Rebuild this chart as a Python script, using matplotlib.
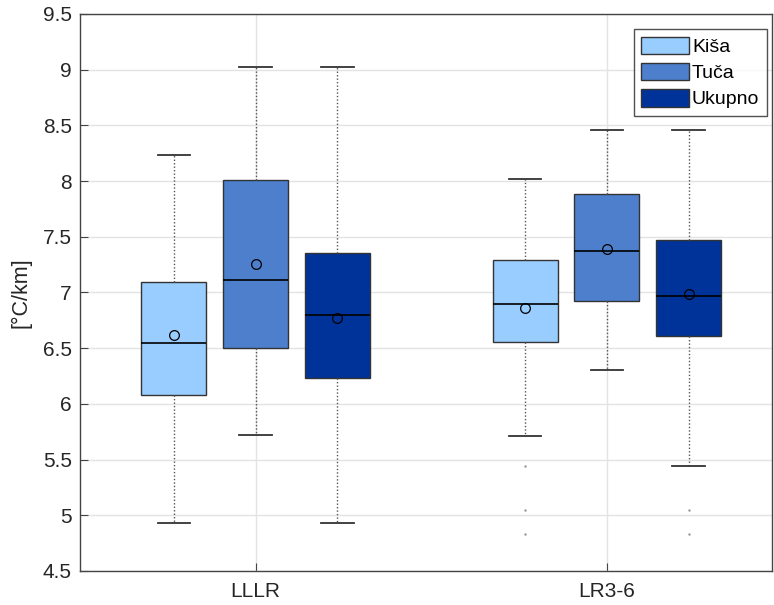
import matplotlib
matplotlib.use("Agg")
import matplotlib.pyplot as plt
from matplotlib.patches import Patch

plt.rcParams['font.family'] = ['Liberation Sans', 'DejaVu Sans']

groups = ["LLLR", "LR3-6"]
series = ["Kiša", "Tuča", "Ukupno"]
colors = ["#99CCFF", "#4D7FCC", "#00339A"]

# per series: values for [LLLR, LR3-6]
whislo = {"Kiša": [4.93, 5.71], "Tuča": [5.72, 6.30], "Ukupno": [4.93, 5.44]}
q1 = {"Kiša": [6.08, 6.56], "Tuča": [6.50, 6.92], "Ukupno": [6.23, 6.61]}
med = {"Kiša": [6.55, 6.90], "Tuča": [7.11, 7.37], "Ukupno": [6.80, 6.97]}
q3 = {"Kiša": [7.09, 7.29], "Tuča": [8.01, 7.88], "Ukupno": [7.35, 7.47]}
whishi = {"Kiša": [8.23, 8.02], "Tuča": [9.02, 8.46], "Ukupno": [9.02, 8.46]}
mean = {"Kiša": [6.62, 6.86], "Tuča": [7.26, 7.39], "Ukupno": [6.77, 6.99]}
fliers = {"Kiša": [[], [5.44, 5.05, 4.83]], "Tuča": [[], []], "Ukupno": [[], [5.05, 4.83]]}

fig = plt.figure(figsize=(7.74, 6.05), dpi=100)
ax = fig.add_axes([0.1034, 0.0562, 0.8940, 0.9207])

offsets = [-0.233, 0.0, 0.233]
width = 0.185
for si, s in enumerate(series):
    stats = []
    for gi in range(len(groups)):
        stats.append(dict(whislo=whislo[s][gi], q1=q1[s][gi], med=med[s][gi],
                          q3=q3[s][gi], whishi=whishi[s][gi], mean=mean[s][gi],
                          fliers=fliers[s][gi]))
    pos = [gi + 1 + offsets[si] for gi in range(len(groups))]
    ax.bxp(stats, positions=pos, widths=width, patch_artist=True, showmeans=True,
           manage_ticks=False,
           boxprops=dict(facecolor=colors[si], edgecolor="#333333", linewidth=1.0),
           medianprops=dict(color="black", linewidth=1.2),
           whiskerprops=dict(color="#555555", linestyle=(0, (1, 1.5)), linewidth=1.0),
           capprops=dict(color="#333333", linewidth=1.3),
           capwidths=width / 2,
           meanprops=dict(marker="o", markerfacecolor="none", markeredgecolor="black",
                          markersize=7, markeredgewidth=0.9),
           flierprops=dict(marker=".", markersize=1.5, markerfacecolor="#999999",
                           markeredgecolor="#999999"),
           zorder=3)

ax.set_xlim(0.5, 2.47)
ax.set_ylim(4.5, 9.5)
ax.set_yticks([4.5, 5, 5.5, 6, 6.5, 7, 7.5, 8, 8.5, 9, 9.5])
ax.set_yticklabels(["4.5", "5", "5.5", "6", "6.5", "7", "7.5", "8", "8.5", "9", "9.5"])
ax.set_xticks([1, 2])
ax.set_xticklabels(groups)
ax.grid(True, color="#E3E3E3", linewidth=1.0, zorder=0)
ax.set_axisbelow(True)
ax.tick_params(direction="in", length=6, color="#444444", labelsize=15,
               labelcolor="#262626", top=False, right=False)
ax.tick_params(axis="y", pad=6)
ax.tick_params(axis="x", pad=8)
for sp in ax.spines.values():
    sp.set_color("#444444")
    sp.set_linewidth(1.0)
ax.set_ylabel("[°C/km]", fontsize=15.5, color="#262626", labelpad=8)

handles = [Patch(facecolor=c, edgecolor="#333333", label=s) for c, s in zip(colors, series)]
leg = ax.legend(handles=handles, loc="upper right", fontsize=14, frameon=True,
                fancybox=False, edgecolor="#262626", handlelength=2.45, handleheight=1.0,
                handletextpad=0.15, labelspacing=0.35, borderpad=0.4,
                bbox_to_anchor=(0.993, 0.973), borderaxespad=0.0)
leg.get_frame().set_linewidth(1.0)

fig.savefig("out.png", dpi=100)
